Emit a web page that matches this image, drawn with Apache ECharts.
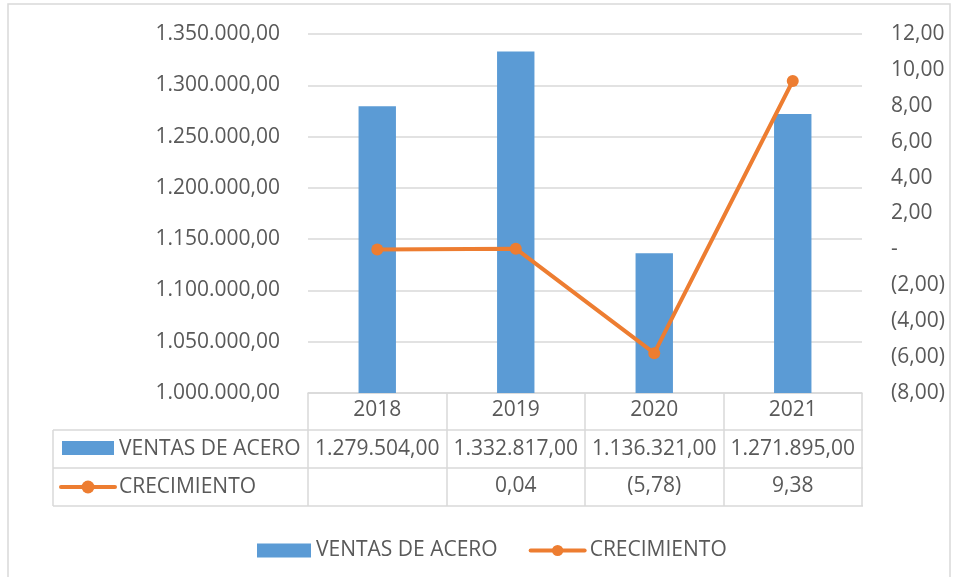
<!DOCTYPE html>
<html>
<head>
<meta charset="utf-8">
<script src="https://cdn.jsdelivr.net/npm/echarts@6/dist/echarts.min.js"></script>
<style>
html,body{margin:0;padding:0;background:#fff;}
#c{width:956px;height:577px;}
</style>
</head>
<body>
<div id="c"></div>
<script>
const categories = ['2018', '2019', '2020', '2021'];
const ventasAcero = [1279504, 1332817, 1136321, 1271895];
const crecimiento = [null, 0.04, -5.78, 9.38];
const leftTicks = { min: 1000000, max: 1350000, interval: 50000 };
const rightTicks = { min: -8, max: 12, interval: 2 };
const nameVentas = 'VENTAS DE ACERO';
const nameCrec = 'CRECIMIENTO';

const FONT = '"Open Sans", sans-serif';
const TXT = '#595959';
const GRID = '#d9d9d9';
const BLUE = '#5B9BD5';
const ORANGE = '#ED7D31';
const FS = 21;

function fmtNum(v, dec) {
  const s = Math.abs(v).toFixed(dec);
  const parts = s.split('.');
  const intPart = parts[0].replace(/\B(?=(\d{3})+(?!\d))/g, '.');
  return intPart + (dec ? ',' + parts[1] : '');
}
function fmtAcct(v) {
  if (v === null || v === undefined) return '';
  if (Math.abs(v) < 1e-9) return '-';
  const s = fmtNum(v, 2);
  return v < 0 ? '(' + s + ')' : s;
}

const chart = echarts.init(document.getElementById('c'), null, { renderer: 'canvas' });

const tableTick = (len) => ({ show: true, interval: 0, length: len, lineStyle: { color: GRID, width: 1.5 } });

const option = {
  animation: false,
  textStyle: { fontFamily: FONT },
  grid: { left: 308, right: 94, top: 34, bottom: 184, containLabel: false },
  legend: {
    left: 252, top: 535,
    itemWidth: 54, itemHeight: 14, itemGap: 31,
    textStyle: { fontFamily: FONT, fontSize: FS, color: TXT },
    data: [
      { name: nameVentas, icon: 'rect' },
      { name: nameCrec, lineStyle: { width: 4, color: ORANGE, cap: 'round' } }
    ]
  },
  xAxis: [
    {
      type: 'category', data: categories, position: 'bottom', boundaryGap: true,
      axisLine: { show: true, onZero: false, lineStyle: { color: GRID, width: 1.5 } },
      axisTick: tableTick(37),
      axisLabel: { interval: 0, fontFamily: FONT, fontSize: FS, color: TXT, margin: 17, verticalAlign: 'middle' }
    },
    {
      type: 'category', data: categories, position: 'bottom', offset: 37, boundaryGap: true,
      axisLine: { show: false, onZero: false },
      axisTick: tableTick(38),
      axisLabel: { interval: 0, fontFamily: FONT, fontSize: FS, color: TXT, margin: 19, verticalAlign: 'middle',
        formatter: (v, i) => fmtNum(ventasAcero[i], 2) }
    },
    {
      type: 'category', data: categories, position: 'bottom', offset: 75, boundaryGap: true,
      axisLine: { show: false, onZero: false },
      axisTick: tableTick(38),
      axisLabel: { interval: 0, fontFamily: FONT, fontSize: FS, color: TXT, margin: 18, verticalAlign: 'middle',
        formatter: (v, i) => crecimiento[i] === null ? '' : fmtAcct(crecimiento[i]) }
    }
  ],
  yAxis: [
    {
      type: 'value', position: 'left', min: leftTicks.min, max: leftTicks.max, interval: leftTicks.interval,
      axisLine: { show: false }, axisTick: { show: false },
      splitLine: { show: true, lineStyle: { color: GRID, width: 1.5 } },
      axisLabel: { fontFamily: FONT, fontSize: FS, color: TXT, margin: 28, formatter: v => fmtNum(v, 2) }
    },
    {
      type: 'value', position: 'right', min: rightTicks.min, max: rightTicks.max, interval: rightTicks.interval,
      axisLine: { show: false }, axisTick: { show: false }, splitLine: { show: false },
      axisLabel: { fontFamily: FONT, fontSize: FS, color: TXT, margin: 29, formatter: v => fmtAcct(v) }
    }
  ],
  series: [
    {
      name: nameVentas, type: 'bar', xAxisIndex: 0, yAxisIndex: 0,
      data: ventasAcero, barWidth: '27%',
      itemStyle: { color: BLUE }
    },
    {
      name: nameCrec, type: 'line', xAxisIndex: 0, yAxisIndex: 1,
      data: crecimiento.map(v => v === null ? 0 : v),
      symbol: 'circle', symbolSize: 12,
      lineStyle: { color: ORANGE, width: 4 },
      itemStyle: { color: ORANGE }
    }
  ],
  graphic: [
    { type: 'rect', shape: { x: 8, y: 4, width: 942, height: 600 }, style: { fill: null, stroke: GRID, lineWidth: 1.5 }, silent: true },
    { type: 'line', shape: { x1: 53, y1: 430, x2: 863, y2: 430 }, style: { stroke: GRID, lineWidth: 1.5 } },
    { type: 'line', shape: { x1: 53, y1: 468, x2: 863, y2: 468 }, style: { stroke: GRID, lineWidth: 1.5 } },
    { type: 'line', shape: { x1: 53, y1: 506, x2: 863, y2: 506 }, style: { stroke: GRID, lineWidth: 1.5 } },
    { type: 'line', shape: { x1: 53, y1: 430, x2: 53, y2: 506 }, style: { stroke: GRID, lineWidth: 1.5 } },
    { type: 'rect', shape: { x: 62, y: 441, width: 52, height: 14 }, style: { fill: BLUE } },
    { type: 'text', x: 119, y: 449, style: { text: nameVentas, font: FS + 'px ' + FONT, fill: TXT, verticalAlign: 'middle' } },
    { type: 'line', shape: { x1: 61, y1: 487, x2: 115, y2: 487 }, style: { stroke: ORANGE, lineWidth: 4, lineCap: 'round' } },
    { type: 'circle', shape: { cx: 88, cy: 487, r: 6.5 }, style: { fill: ORANGE } },
    { type: 'text', x: 119, y: 487, style: { text: nameCrec, font: FS + 'px ' + FONT, fill: TXT, verticalAlign: 'middle' } }
  ]
};
chart.setOption(option);
</script>
</body>
</html>
